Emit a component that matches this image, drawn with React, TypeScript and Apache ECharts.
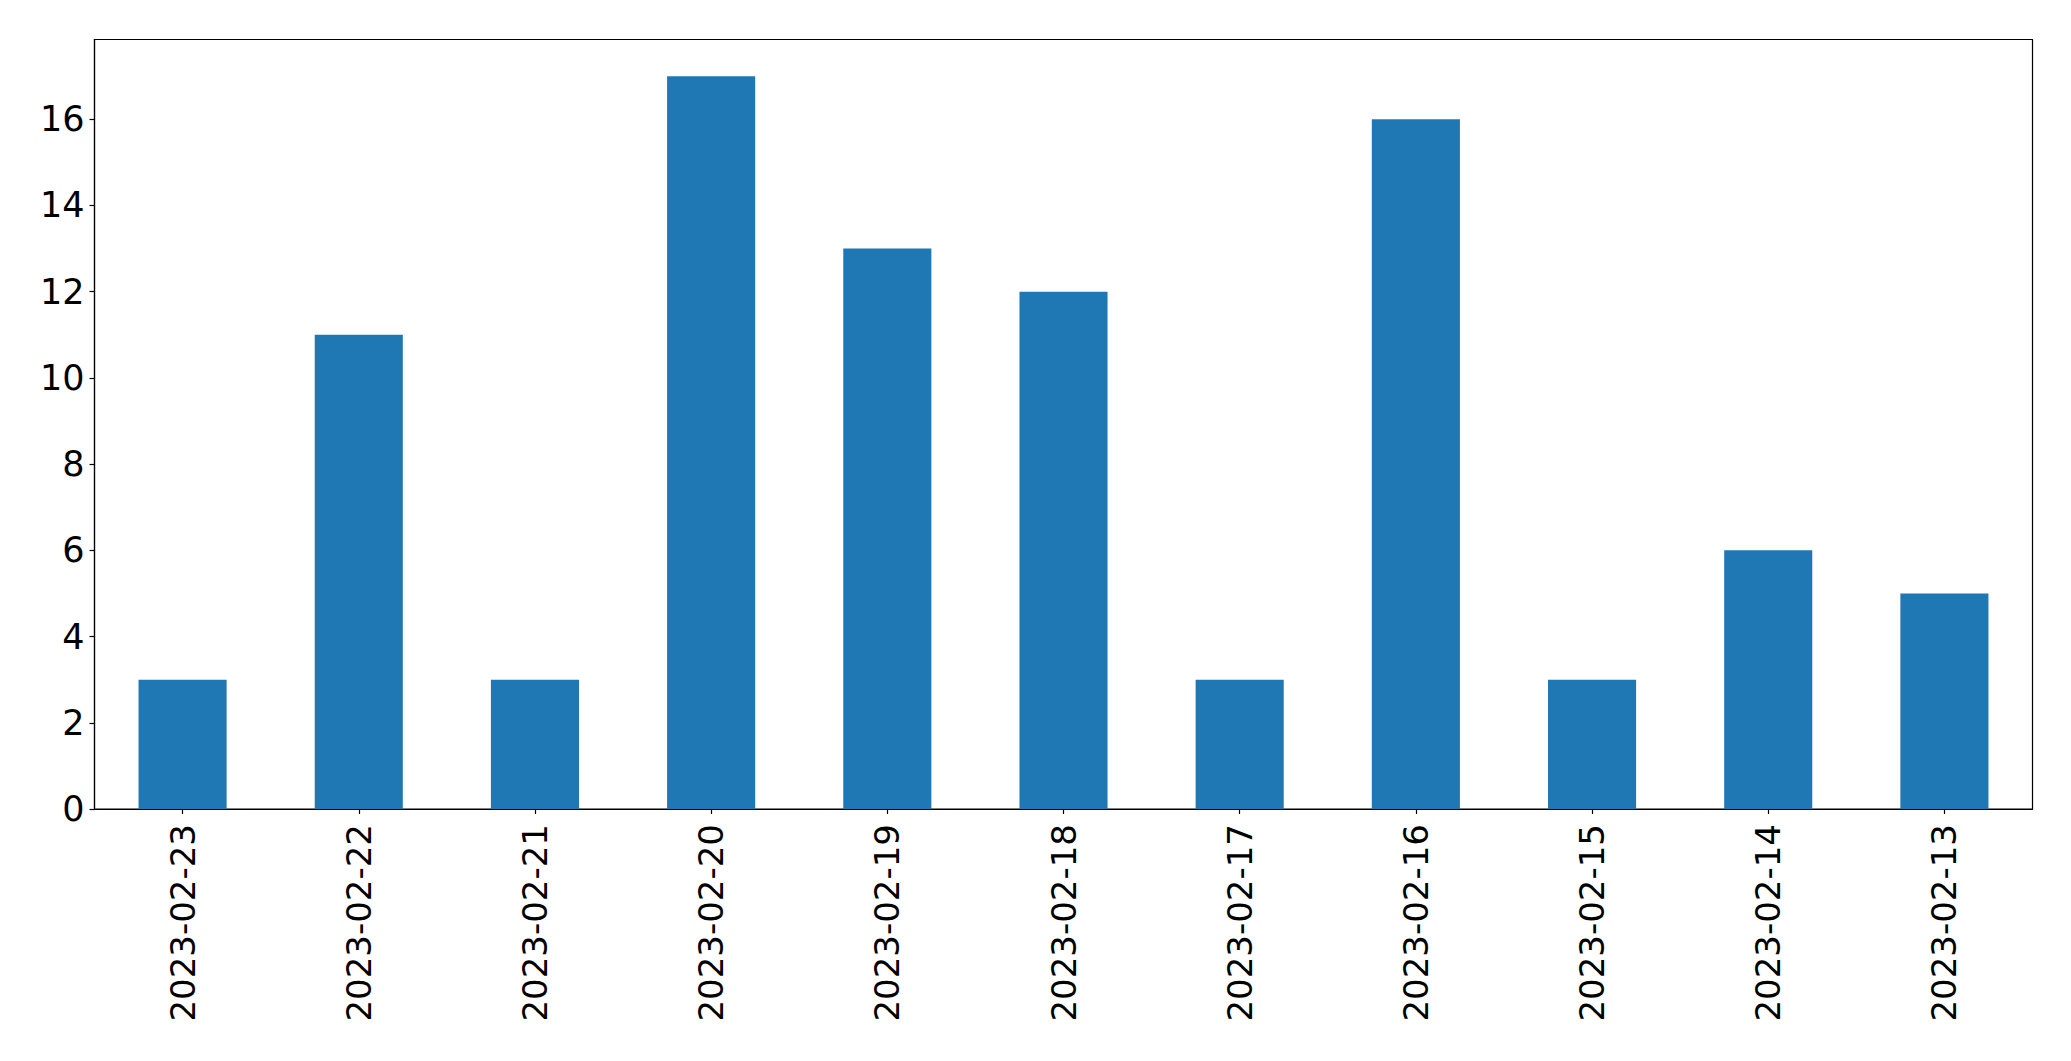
import React, { useEffect, useRef } from "react";
import * as echarts from "echarts";

const categories = [
  "2023-02-23",
  "2023-02-22",
  "2023-02-21",
  "2023-02-20",
  "2023-02-19",
  "2023-02-18",
  "2023-02-17",
  "2023-02-16",
  "2023-02-15",
  "2023-02-14",
  "2023-02-13",
];
const values = [3, 11, 3, 17, 13, 12, 3, 16, 3, 6, 5];
const yTicks = [0, 2, 4, 6, 8, 10, 12, 14, 16];
const yMax = 17.85;

export default function App() {
  const ref = useRef<HTMLDivElement>(null);
  useEffect(() => {
    if (!ref.current) return;
    const chart = echarts.init(ref.current, undefined, { renderer: "svg" });
    const font = "DejaVu Sans";
    chart.setOption({
      animation: false,
      backgroundColor: "#ffffff",
      grid: {
        left: 94.5,
        top: 39.5,
        right: 38.5,
        bottom: 252,
        show: true,
        borderColor: "#000000",
        borderWidth: 1.2,
        backgroundColor: "transparent",
        containLabel: false,
      },
      xAxis: {
        type: "category",
        data: categories,
        boundaryGap: true,
        axisLine: { show: true, lineStyle: { color: "#000000", width: 1.2 } },
        axisTick: {
          show: true,
          alignWithLabel: true,
          length: 5,
          lineStyle: { color: "#000000", width: 1.2 },
        },
        axisLabel: {
          rotate: 90,
          margin: 15,
          interval: 0,
          color: "#000000",
          fontFamily: font,
          fontSize: 34,
        },
        splitLine: { show: false },
      },
      yAxis: {
        type: "value",
        min: 0,
        max: yMax,
        axisLine: { show: true, lineStyle: { color: "#000000", width: 1.2 } },
        axisTick: {
          show: true,
          length: 5,
          lineStyle: { color: "#000000", width: 1.2 },
          customValues: yTicks,
        },
        axisLabel: {
          margin: 10,
          color: "#000000",
          fontFamily: font,
          fontSize: 35,
          customValues: yTicks,
        },
        splitLine: { show: false },
      },
      series: [
        {
          type: "bar",
          data: values,
          barWidth: "50%",
          itemStyle: { color: "#1f77b4" },
        },
      ],
    });
    return () => chart.dispose();
  }, []);
  return (
    <div
      ref={ref}
      style={{ position: "absolute", left: 0, top: 0, width: 2071, height: 1061 }}
    />
  );
}
